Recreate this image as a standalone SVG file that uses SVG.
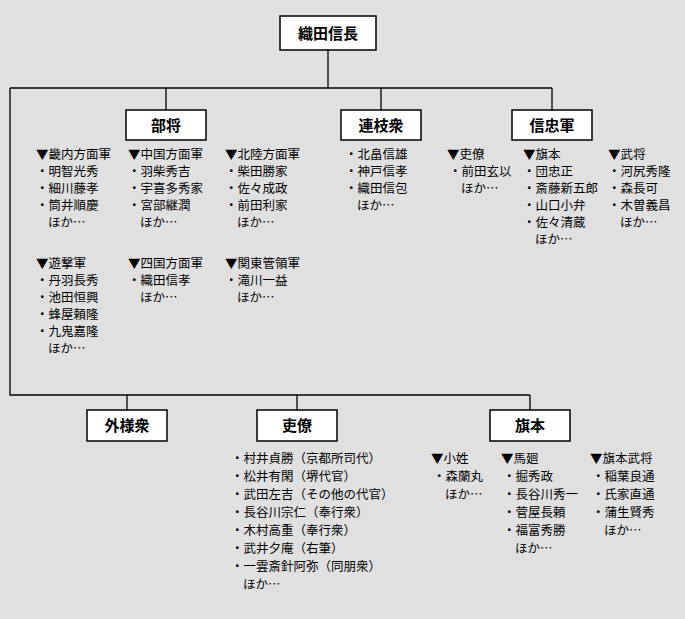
<svg xmlns="http://www.w3.org/2000/svg" width="685" height="619" viewBox="0 0 685 619">
<style>
.b{fill:#fff;stroke:#000;stroke-width:1.5}
.bt{font-family:"Noto Sans CJK JP",sans-serif;font-size:15px;font-weight:bold;text-anchor:middle}
.t{font-family:"Noto Sans CJK JP",sans-serif;font-size:12.5px;fill:#000}
.c{stroke:#000;stroke-width:1.3;fill:none}
</style>
<rect width="685" height="619" fill="#e0e0e0"/>
<g id="connectors">
<path class="c" d="M328 50V88M10 88H552M10 88V395H530M166 88V110M381 88V110M552 88V110M127 395V410M297 395V410M530 395V410"/>
</g>
<g id="n0"><rect class="b" x="280" y="16" width="96" height="34"/><text class="bt" x="328" y="39">織田信長</text></g>
<g id="n1"><rect class="b" x="126" y="110" width="80" height="30"/><text class="bt" x="166" y="131">部将</text></g>
<g id="n2"><rect class="b" x="341" y="110" width="80" height="30"/><text class="bt" x="381" y="131">連枝衆</text></g>
<g id="n3"><rect class="b" x="512" y="110" width="80" height="30"/><text class="bt" x="552" y="131">信忠軍</text></g>
<g id="n4"><rect class="b" x="87" y="410" width="80" height="31"/><text class="bt" x="127" y="431">外様衆</text></g>
<g id="n5"><rect class="b" x="257" y="410" width="80" height="31"/><text class="bt" x="297" y="431">吏僚</text></g>
<g id="n6"><rect class="b" x="490" y="410" width="80" height="31"/><text class="bt" x="530" y="431">旗本</text></g>
<g id="lists" class="t">
<text x="36" y="159">▼畿内方面軍</text><text x="36" y="176">・明智光秀</text><text x="36" y="193">・細川藤孝</text><text x="36" y="210">・筒井順慶</text><text x="48" y="227">ほか…</text>
<text x="128" y="159">▼中国方面軍</text><text x="128" y="176">・羽柴秀吉</text><text x="128" y="193">・宇喜多秀家</text><text x="128" y="210">・宮部継潤</text><text x="140" y="227">ほか…</text>
<text x="225" y="159">▼北陸方面軍</text><text x="225" y="176">・柴田勝家</text><text x="225" y="193">・佐々成政</text><text x="225" y="210">・前田利家</text><text x="237" y="227">ほか…</text>
<text x="36" y="268">▼遊撃軍</text><text x="36" y="285">・丹羽長秀</text><text x="36" y="302">・池田恒興</text><text x="36" y="319">・蜂屋頼隆</text><text x="36" y="336">・九鬼嘉隆</text><text x="48" y="353">ほか…</text>
<text x="128" y="268">▼四国方面軍</text><text x="128" y="285">・織田信孝</text><text x="140" y="302">ほか…</text>
<text x="225" y="268">▼関東管領軍</text><text x="225" y="285">・滝川一益</text><text x="237" y="302">ほか…</text>
<text x="345" y="159">・北畠信雄</text><text x="345" y="176">・神戸信孝</text><text x="345" y="193">・織田信包</text><text x="357" y="210">ほか…</text>
<text x="447" y="159">▼吏僚</text><text x="449" y="176">・前田玄以</text><text x="461" y="193">ほか…</text>
<text x="523" y="159">▼旗本</text><text x="523" y="176">・団忠正</text><text x="523" y="193">・斎藤新五郎</text><text x="523" y="210">・山口小弁</text><text x="523" y="227">・佐々清蔵</text><text x="535" y="244">ほか…</text>
<text x="608" y="159">▼武将</text><text x="608" y="176">・河尻秀隆</text><text x="608" y="193">・森長可</text><text x="608" y="210">・木曽義昌</text><text x="620" y="227">ほか…</text>
<text x="231" y="463">・村井貞勝（京都所司代）</text><text x="231" y="481">・松井有閑（堺代官）</text><text x="231" y="499">・武田左吉（その他の代官）</text><text x="231" y="517">・長谷川宗仁（奉行衆）</text><text x="231" y="535">・木村高重（奉行衆）</text><text x="231" y="553">・武井夕庵（右筆）</text><text x="231" y="571">・一雲斎針阿弥（同朋衆）</text><text x="243" y="589">ほか…</text>
<text x="431" y="463">▼小姓</text><text x="433" y="481">・森蘭丸</text><text x="445" y="499">ほか…</text>
<text x="501" y="463">▼馬廻</text><text x="503" y="481">・掘秀政</text><text x="503" y="499">・長谷川秀一</text><text x="503" y="517">・菅屋長頼</text><text x="503" y="535">・福富秀勝</text><text x="515" y="553">ほか…</text>
<text x="590" y="463">▼旗本武将</text><text x="592" y="481">・稲葉良通</text><text x="592" y="499">・氏家直通</text><text x="592" y="517">・蒲生賢秀</text><text x="604" y="535">ほか…</text>
</g>
</svg>
